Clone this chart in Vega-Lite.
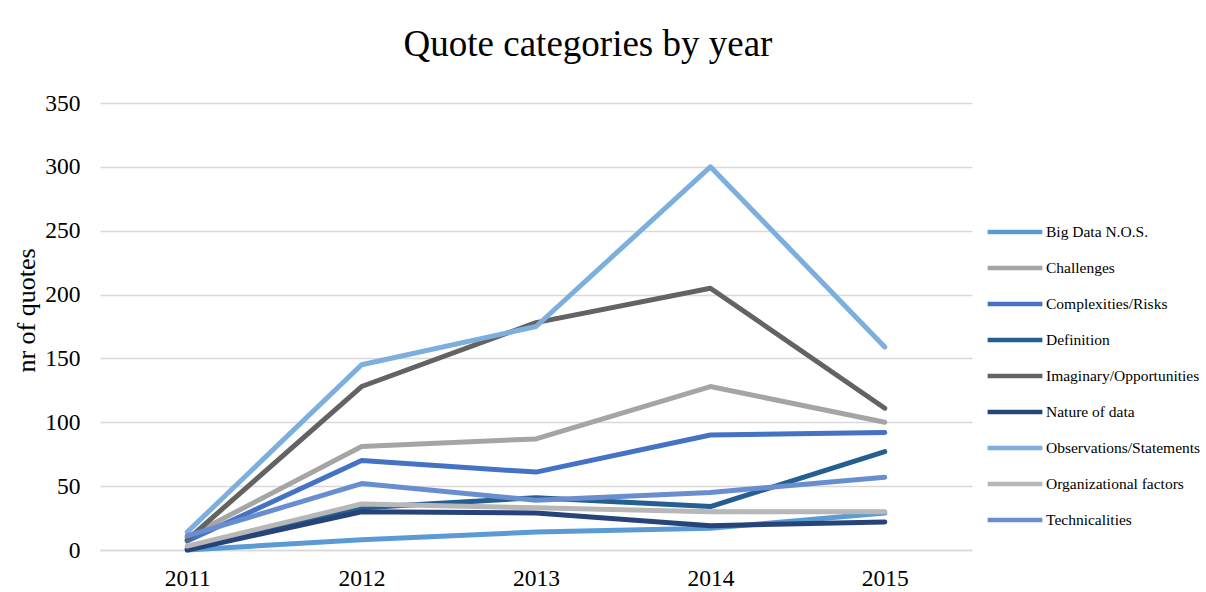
{
  "$schema": "https://vega.github.io/schema/vega-lite/v6.json",
  "autosize": {"type": "none"},
  "width": 872,
  "height": 447,
  "padding": {"left": 100, "top": 103, "right": 234, "bottom": 42},
  "background": "white",
  "title": {
    "text": "Quote categories by year",
    "font": "Liberation Serif",
    "fontSize": 37,
    "fontWeight": "normal",
    "color": "#000000",
    "anchor": "middle",
    "frame": "group",
    "dx": 52,
    "dy": 44,
    "offset": 42,
    "baseline": "alphabetic"
  },
  "config": {
    "view": {"stroke": null},
    "font": "Liberation Serif"
  },
  "data": {
    "values": [
      {"year": "2011", "category": "Big Data N.O.S.", "count": 0},
      {"year": "2012", "category": "Big Data N.O.S.", "count": 8},
      {"year": "2013", "category": "Big Data N.O.S.", "count": 14},
      {"year": "2014", "category": "Big Data N.O.S.", "count": 17},
      {"year": "2015", "category": "Big Data N.O.S.", "count": 29},
      {"year": "2011", "category": "Challenges", "count": 10},
      {"year": "2012", "category": "Challenges", "count": 81},
      {"year": "2013", "category": "Challenges", "count": 87},
      {"year": "2014", "category": "Challenges", "count": 128},
      {"year": "2015", "category": "Challenges", "count": 100},
      {"year": "2011", "category": "Complexities/Risks", "count": 7},
      {"year": "2012", "category": "Complexities/Risks", "count": 70},
      {"year": "2013", "category": "Complexities/Risks", "count": 61},
      {"year": "2014", "category": "Complexities/Risks", "count": 90},
      {"year": "2015", "category": "Complexities/Risks", "count": 92},
      {"year": "2011", "category": "Definition", "count": 1},
      {"year": "2012", "category": "Definition", "count": 33},
      {"year": "2013", "category": "Definition", "count": 41},
      {"year": "2014", "category": "Definition", "count": 34},
      {"year": "2015", "category": "Definition", "count": 77},
      {"year": "2011", "category": "Imaginary/Opportunities", "count": 8},
      {"year": "2012", "category": "Imaginary/Opportunities", "count": 128},
      {"year": "2013", "category": "Imaginary/Opportunities", "count": 178},
      {"year": "2014", "category": "Imaginary/Opportunities", "count": 205},
      {"year": "2015", "category": "Imaginary/Opportunities", "count": 111},
      {"year": "2011", "category": "Nature of data", "count": 0},
      {"year": "2012", "category": "Nature of data", "count": 30},
      {"year": "2013", "category": "Nature of data", "count": 29},
      {"year": "2014", "category": "Nature of data", "count": 19},
      {"year": "2015", "category": "Nature of data", "count": 22},
      {"year": "2011", "category": "Observations/Statements", "count": 14},
      {"year": "2012", "category": "Observations/Statements", "count": 145},
      {"year": "2013", "category": "Observations/Statements", "count": 175},
      {"year": "2014", "category": "Observations/Statements", "count": 300},
      {"year": "2015", "category": "Observations/Statements", "count": 159},
      {"year": "2011", "category": "Organizational factors", "count": 3},
      {"year": "2012", "category": "Organizational factors", "count": 36},
      {"year": "2013", "category": "Organizational factors", "count": 33},
      {"year": "2014", "category": "Organizational factors", "count": 30},
      {"year": "2015", "category": "Organizational factors", "count": 30},
      {"year": "2011", "category": "Technicalities", "count": 11},
      {"year": "2012", "category": "Technicalities", "count": 52},
      {"year": "2013", "category": "Technicalities", "count": 39},
      {"year": "2014", "category": "Technicalities", "count": 45},
      {"year": "2015", "category": "Technicalities", "count": 57}
    ]
  },
  "mark": {"type": "line", "strokeWidth": 5, "strokeCap": "round", "strokeJoin": "round"},
  "encoding": {
    "x": {
      "field": "year",
      "type": "ordinal",
      "scale": {"type": "point", "padding": 0.5},
      "axis": {
        "title": null,
        "labelAngle": 0,
        "labelFont": "Liberation Serif",
        "labelFontSize": 23.5,
        "labelColor": "#000000",
        "labelPadding": 16,
        "ticks": false,
        "grid": false,
        "domain": true,
        "domainColor": "#d9d9d9",
        "domainWidth": 1.5
      }
    },
    "y": {
      "field": "count",
      "type": "quantitative",
      "scale": {"domain": [0, 350], "nice": false},
      "axis": {
        "title": "nr of quotes",
        "titleFont": "Liberation Serif",
        "titleFontSize": 26,
        "titleFontWeight": "normal",
        "titleColor": "#000000",
        "titlePadding": 5,
        "titleY": 207,
        "values": [0, 50, 100, 150, 200, 250, 300, 350],
        "labelFont": "Liberation Serif",
        "labelFontSize": 23.5,
        "labelColor": "#000000",
        "labelPadding": 20,
        "ticks": false,
        "domain": false,
        "grid": true,
        "gridColor": "#d9d9d9",
        "gridWidth": 1.5
      }
    },
    "color": {
      "field": "category",
      "type": "nominal",
      "scale": {
        "domain": ["Big Data N.O.S.", "Challenges", "Complexities/Risks", "Definition", "Imaginary/Opportunities", "Nature of data", "Observations/Statements", "Organizational factors", "Technicalities"],
        "range": ["#5B9BD5", "#A5A5A5", "#4472C4", "#255E91", "#636363", "#264478", "#7CAFDD", "#B7B7B7", "#698ED0"]
      },
      "legend": {
        "title": null,
        "orient": "none",
        "legendX": 885,
        "legendY": 111,
        "symbolType": "stroke",
        "symbolSize": 3000,
        "symbolStrokeWidth": 4.5,
        "clipHeight": 36,
        "rowPadding": 0,
        "padding": 0,
        "labelFont": "Liberation Serif",
        "labelFontSize": 15.5,
        "labelColor": "#000000",
        "labelOffset": 1,
        "labelLimit": 300
      }
    }
  }
}
